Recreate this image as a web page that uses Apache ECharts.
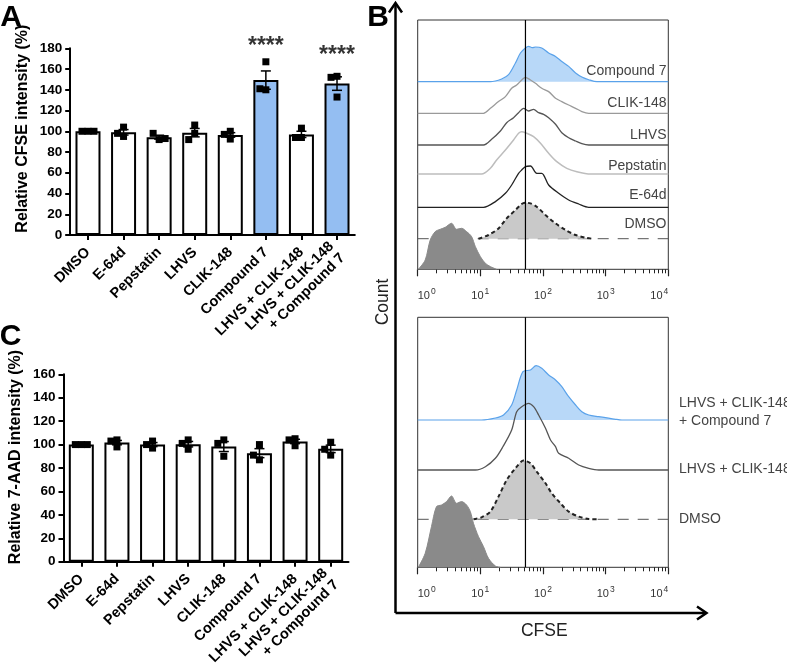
<!DOCTYPE html>
<html><head><meta charset="utf-8">
<script src="https://cdn.jsdelivr.net/npm/echarts@6/dist/echarts.min.js"></script>
<style>html,body{margin:0;padding:0;background:#fff}#c{width:787px;height:671px}</style>
</head><body><div id="c"></div>
<script>
// ---------------- data ----------------
const categories = ['DMSO','E-64d','Pepstatin','LHVS','CLIK-148','Compound 7','LHVS + CLIK-148','LHVS + CLIK-148\n+ Compound 7'];
// panel A: relative CFSE intensity (%) replicates
const cfseReps = [[100,100,100],[95,104,98],[92,98,93],[106,98,92],[100,92.5,97],[167,140,141],[103,94,94],[153,152,133]];
// panel C: relative 7-AAD intensity (%) replicates
const aadReps = [[100,100,100],[104,98,103],[103,97,100],[104,96,101],[104,101,90],[100,87,91],[105,99,104],[102,91,96]];
const highlightedA = ['Compound 7','LHVS + CLIK-148\n+ Compound 7'];
const sigA = [{cat:'Compound 7', y:182, text:'****'},{cat:'LHVS + CLIK-148\n+ Compound 7', y:173, text:'****'}];
const yAxisA = {min:0, max:180, interval:20, name:'Relative CFSE intensity (%)'};
const yAxisC = {min:0, max:160, interval:20, name:'Relative 7-AAD intensity (%)'};
// panel B: histograms, x = log10(CFSE), y = count (a.u.)
const decades = [0,1,2,3,4];
const gateLog = 1.72;
const hC7   = [[0,0],[1.16,0],[1.34,2.7],[1.45,7],[1.56,18.7],[1.64,28.7],[1.72,33.7],[1.77,35.3],[1.83,34],[1.88,34.7],[1.98,33.7],[2.09,28.7],[2.2,25.3],[2.3,20.3],[2.41,15.3],[2.52,8.7],[2.62,4.7],[2.73,2],[2.86,0],[4,0]];
const hCLIK = [[0,0],[1.05,0],[1.16,5],[1.29,11.7],[1.4,16.7],[1.5,25],[1.58,28.3],[1.66,33.3],[1.72,36],[1.8,33.3],[1.88,30],[1.98,25],[2.09,21.7],[2.2,15],[2.3,11.7],[2.41,8.3],[2.52,5],[2.62,1.7],[2.73,0],[4,0]];
const hLHVS = [[0,0],[1.05,0],[1.18,5.7],[1.32,14],[1.42,22.3],[1.53,27.3],[1.61,32.3],[1.69,36.7],[1.77,34],[1.85,35.7],[1.93,32.3],[2.01,30.7],[2.09,27.3],[2.2,20.7],[2.3,12.3],[2.41,7.3],[2.52,4],[2.62,1.3],[2.73,0],[4,0]];
const hPep  = [[0,0],[1.02,0],[1.16,5.7],[1.26,14],[1.4,24],[1.53,34],[1.61,40.7],[1.66,42.3],[1.74,40.7],[1.85,37.3],[1.96,30.7],[2.09,20.7],[2.22,12.3],[2.38,5.7],[2.54,2.3],[2.76,0],[4,0]];
const hE64  = [[0,0],[1.05,0],[1.24,5.7],[1.4,14],[1.5,22.3],[1.61,34],[1.66,37.3],[1.72,40.7],[1.8,41.3],[1.9,34],[1.98,34],[2.09,22.3],[2.25,14],[2.41,7.3],[2.57,3.3],[2.73,0],[4,0]];
const hDMSOa = [[0.97,0],[1.13,3.7],[1.29,10.3],[1.42,20.3],[1.56,28.7],[1.66,34.7],[1.72,36],[1.8,35.3],[1.9,32],[2.04,23.7],[2.2,15.3],[2.36,8.7],[2.52,3.7],[2.68,1],[2.78,0]];
const hUnstA = [[0.01,0],[0.12,9.3],[0.2,29.3],[0.28,37.7],[0.36,40],[0.44,42],[0.54,46],[0.62,40],[0.7,41],[0.78,37.7],[0.86,32.7],[0.92,22.7],[1.0,12.7],[1.08,6],[1.16,2.7],[1.26,0]];
const hCombo = [[0,0],[1.02,0],[1.24,2],[1.37,5],[1.5,15],[1.58,30],[1.68,48.3],[1.8,50],[1.89,54.3],[1.98,51.7],[2.09,45],[2.2,40],[2.3,33.3],[2.41,23.3],[2.52,15],[2.62,8.3],[2.73,5],[2.89,3.3],[3.16,0.7],[3.26,0],[4,0]];
const hLC    = [[0,0],[0.92,0],[1.08,3.3],[1.24,11.7],[1.36,23.3],[1.5,40],[1.58,58.3],[1.66,63.3],[1.77,66.7],[1.85,63.3],[1.93,55],[2.04,41.7],[2.12,30],[2.2,23.3],[2.25,16.7],[2.41,11.7],[2.57,5],[2.73,1.7],[2.89,0],[4,0]];
const hDMSOb = [[0.89,0],[1.02,2],[1.16,7.7],[1.29,22.7],[1.42,39.3],[1.56,51],[1.69,58.7],[1.8,56],[1.9,47.7],[2.04,36],[2.14,26],[2.28,16],[2.41,7.7],[2.57,2.7],[2.73,0.3],[2.86,0]];
const hUnstB = [[0.01,0],[0.12,14],[0.22,40.7],[0.3,60.7],[0.38,62.3],[0.46,65.7],[0.54,71.3],[0.62,64],[0.7,65.7],[0.78,62.3],[0.84,55.7],[0.89,44],[0.97,30.7],[1.05,20.7],[1.13,9],[1.24,1.3],[1.32,0]];
const topLabels = ['Compound 7','CLIK-148','LHVS','Pepstatin','E-64d','DMSO'];
const bottomLabels = ['LHVS + CLIK-148\n+ Compound 7','LHVS + CLIK-148','DMSO'];

// ---------------- helpers ----------------
const FONT = 'Arial, "Liberation Sans", Helvetica, sans-serif';
const mean = a => a.reduce((s,v)=>s+v,0)/a.length;
const sem = a => { const m=mean(a); return Math.sqrt(a.reduce((s,v)=>s+(v-m)*(v-m),0)/(a.length-1))/Math.sqrt(a.length); };
const grids=[], xAxes=[], yAxes=[], series=[], graphics=[];
function addGrid(g, x, y){
  grids.push(Object.assign({outerBoundsMode:'none', containLabel:false, show:false}, g));
  const gi = grids.length-1;
  xAxes.push(Object.assign({gridIndex:gi}, x)); const xi = xAxes.length-1;
  yAxes.push(Object.assign({gridIndex:gi}, y)); const yi = yAxes.length-1;
  return {gi, xi, yi};
}
const blk = {color:'#000', width:2};

function barPanel(reps, box, ycfg, highlighted, namePad, sig){
  const {xi, yi} = addGrid(box,
    {type:'category', data:categories, boundaryGap:true,
     axisLine:{show:true, lineStyle:blk}, axisTick:{show:true, alignWithLabel:true, length:5, lineStyle:blk},
     axisLabel:{interval:0, rotate:45, margin:15, color:'#000', fontWeight:'bold', fontSize:14.5, fontFamily:FONT, lineHeight:16},
     splitLine:{show:false}},
    {type:'value', min:ycfg.min, max:ycfg.max, interval:ycfg.interval,
     axisLine:{show:true, lineStyle:blk}, axisTick:{show:true, length:5, lineStyle:blk},
     axisLabel:{color:'#000', fontWeight:'bold', fontSize:13.5, fontFamily:FONT, margin:8},
     splitLine:{show:false},
     name:ycfg.name, nameLocation:'middle', nameRotate:90, nameGap:40,
     nameTextStyle:{color:'#000', fontWeight:'bold', fontSize:16, fontFamily:FONT, padding:[0,0,0,namePad]}});
  const means = reps.map(mean), sems = reps.map(sem);
  series.push({type:'bar', xAxisIndex:xi, yAxisIndex:yi, barWidth:25, animation:false, silent:true,
    data: means.map((m,i)=>({value:m, itemStyle:{color: highlighted.includes(categories[i]) ? '#94bef2' : '#ffffff'}})),
    itemStyle:{borderColor:'#000', borderWidth:2}});
  series.push({type:'custom', xAxisIndex:xi, yAxisIndex:yi, z:5, animation:false, silent:true, clip:false,
    data: means.map((m,i)=>[i, m, sems[i]]),
    renderItem(params, api){
      const i = api.value(0), m = api.value(1), s = api.value(2);
      const c = api.coord([i, m]);
      const top = api.coord([i, m+s])[1], bot = api.coord([i, m-s])[1];
      const ls = {stroke:'#000', lineWidth:1.5};
      const ch = [
        {type:'line', shape:{x1:c[0], y1:top, x2:c[0], y2:bot}, style:ls},
        {type:'line', shape:{x1:c[0]-5, y1:top, x2:c[0]+5, y2:top}, style:ls},
        {type:'line', shape:{x1:c[0]-5, y1:bot, x2:c[0]+5, y2:bot}, style:ls}];
      const placed = [], sz = 7, step = 6;
      reps[i].forEach(v=>{
        const y = api.coord([i, v])[1];
        let dx = 0;
        for (const d of [0,-step,step,-2*step,2*step,-3*step,3*step]) {
          if (!placed.some(p=>Math.abs(p[0]-d)<step && Math.abs(p[1]-y)<sz)) { dx = d; break; }
        }
        placed.push([dx, y]);
        ch.push({type:'rect', shape:{x:c[0]+dx-sz/2, y:y-sz/2, width:sz, height:sz}, style:{fill:'#000'}});
      });
      return {type:'group', children:ch};
    }});
  if (sig) {
    series.push({type:'scatter', xAxisIndex:xi, yAxisIndex:yi, symbolSize:1, clip:false, animation:false, silent:true, z:6,
      itemStyle:{color:'transparent'},
      data: sig.map(s=>({value:[categories.indexOf(s.cat), s.y], text:s.text})),
      label:{show:true, position:'inside', formatter:p=>p.data.text, color:'#000', fontWeight:'bold', fontSize:23, fontFamily:FONT}});
  }
}

barPanel(cfseReps, {left:70.2, top:48.3, width:284.6, height:186.7}, yAxisA, highlightedA, 26, sigA);
barPanel(aadReps, {left:63.5, top:374.3, width:285, height:187.4}, yAxisC, [], 22, null);

// ---------------- panel B ----------------
const minorTicks = [];
for (let d=0; d<4; d++) for (let k=2; k<=9; k++) minorTicks.push(d+Math.log10(k));
const BOXL = 417.7, BOXW = 250.6;
function frame(top, height){
  const {gi, xi, yi} = addGrid({left:BOXL, width:BOXW, top, height, show:true, borderColor:'#333', borderWidth:1, backgroundColor:'transparent'},
    {type:'value', min:0, max:4, interval:1, position:'bottom',
     axisLine:{show:false}, axisTick:{show:true, length:7, lineStyle:{color:'#222', width:1.2}},
     axisLabel:{show:true, margin:18, alignMinLabel:'left', alignMaxLabel:'right',
       customValues: decades,
       formatter: v=>'{a|10}{b|'+v+'}',
       rich:{a:{fontSize:11, color:'#333', fontFamily:FONT}, b:{fontSize:8.5, color:'#333', fontFamily:FONT, padding:[0,0,8,1]}}},
     splitLine:{show:false}},
    {type:'value', min:0, max:1, show:false});
  xAxes.push({gridIndex:gi, type:'value', min:0, max:4, position:'bottom',
    axisLine:{show:false}, axisLabel:{show:false}, splitLine:{show:false},
    axisTick:{show:true, length:4, customValues:minorTicks, lineStyle:{color:'#222', width:1}}});
  series.push({type:'line', xAxisIndex:xi, yAxisIndex:yi, data:[[gateLog,0],[gateLog,1]], symbol:'none', z:20, silent:true, animation:false,
    lineStyle:{color:'#000', width:1.2}});
}
function ridge(data, base, st){
  const {xi, yi} = addGrid({left:BOXL, width:BOXW, top:base-80, height:80},
    {type:'value', min:0, max:4, show:false}, {type:'value', min:0, max:80, show:false});
  const common = {type:'line', xAxisIndex:xi, yAxisIndex:yi, symbol:'none', smooth:0.3, silent:true, animation:false, clip:false};
  if (st.dashedBase) series.push(Object.assign({}, common, {data:[[0,0],[4,0]], smooth:false, z:3,
      lineStyle:{color:'#555', width:1, type:[11,9]}}));
  series.push(Object.assign({}, common, {data, z:4,
    lineStyle:{color:st.line, width:st.width||1.3, type:st.type||'solid'},
    areaStyle: st.fill ? {color:st.fill, opacity:1} : undefined}));
}
frame(20, 249.3);
ridge(hC7, 81.7, {line:'#5aa2ea', width:1.2, fill:'#b8d8f8'});
ridge(hCLIK, 113.3, {line:'#9a9a9a'});
ridge(hLHVS, 145, {line:'#555555'});
ridge(hPep, 174, {line:'#bdbdbd', width:1.5});
ridge(hE64, 207.3, {line:'#222222'});
ridge(hDMSOa, 238.7, {line:'#222', width:2, type:[4,3], fill:'#c9c9c9', dashedBase:true});
ridge(hUnstA, 269.3, {line:'#8a8a8a', width:1, fill:'#8a8a8a'});
frame(317.3, 250);
ridge(hCombo, 420, {line:'#5aa2ea', width:1.2, fill:'#b8d8f8'});
ridge(hLC, 470, {line:'#555555'});
ridge(hDMSOb, 519.3, {line:'#222', width:2, type:[4,3], fill:'#c9c9c9', dashedBase:true});
ridge(hUnstB, 567.3, {line:'#8a8a8a', width:1, fill:'#8a8a8a'});

// ---------------- text & arrows ----------------
function txt(text, x, y, o){
  graphics.push({type:'text', x, y, rotation:(o&&o.rot)||0, silent:true,
    style:Object.assign({text, fill:'#000', fontFamily:FONT, fontSize:14, align:'center', verticalAlign:'middle'}, (o&&o.style)||{})});
}
txt('A', 11, 17.5, {style:{fontSize:30, fontWeight:'bold'}});
txt('B', 378, 17.5, {style:{fontSize:30, fontWeight:'bold'}});
txt('C', 10.5, 337, {style:{fontSize:30, fontWeight:'bold'}});
txt('Count', 383, 302, {rot:Math.PI/2, style:{fontSize:17.5, fill:'#222'}});
txt('CFSE', 544.3, 631, {style:{fontSize:17.5, fill:'#222'}});
const topLabelY = [71, 103.3, 135, 165.7, 195, 224];
topLabels.forEach((t,i)=>txt(t, 666.5, topLabelY[i], {style:{align:'right', fill:'#444'}}));
const botLabelY = [412, 469.3, 519.3];
bottomLabels.forEach((t,i)=>txt(t, 679, botLabelY[i], {style:{align:'left', fill:'#444', lineHeight:18.5}}));
const arrowStyle = {stroke:'#000', lineWidth:2.5, fill:'none'};
graphics.push({type:'polyline', silent:true, shape:{points:[[395.5,613],[395.5,3]]}, style:arrowStyle});
graphics.push({type:'polyline', silent:true, shape:{points:[[389,12.5],[395.5,3],[402,12.5]]}, style:arrowStyle});
graphics.push({type:'polyline', silent:true, shape:{points:[[395.5,613],[706,613]]}, style:arrowStyle});
graphics.push({type:'polyline', silent:true, shape:{points:[[697,606.5],[706.5,613],[697,619.5]]}, style:arrowStyle});

const chart = echarts.init(document.getElementById('c'), null, {renderer:'canvas'});
chart.setOption({
  backgroundColor:'#ffffff',
  animation:false,
  textStyle:{fontFamily:FONT},
  grid:grids, xAxis:xAxes, yAxis:yAxes, series, graphic:graphics
});
</script></body></html>
